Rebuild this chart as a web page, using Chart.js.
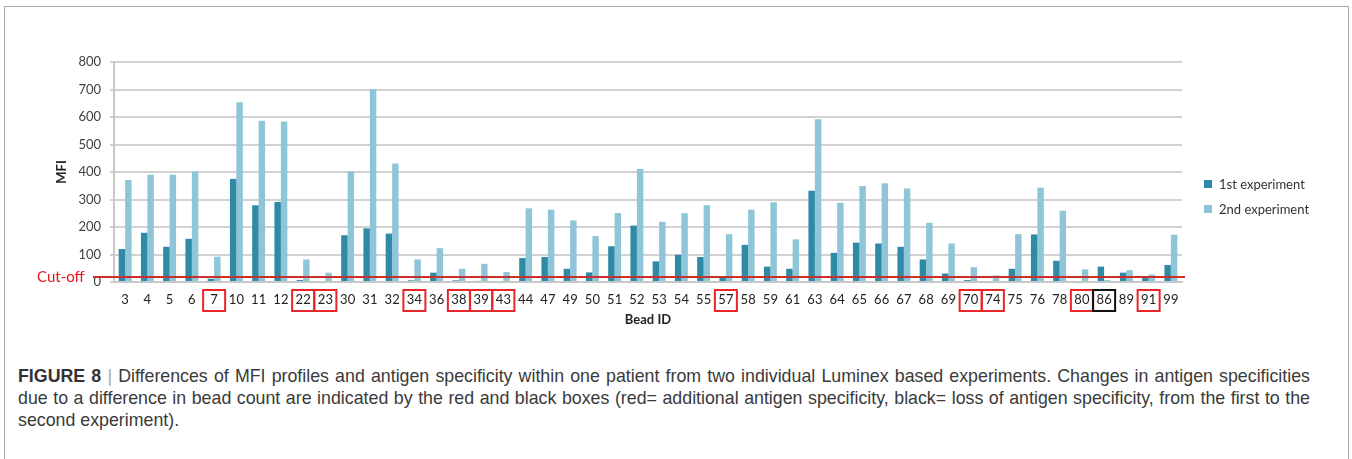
<!DOCTYPE html>
<html lang="en">
<head>
    <meta charset="UTF-8">
    <script src="https://cdn.jsdelivr.net/npm/chart.js"></script>
    <title>Figure 8</title>
    <style>
        body { margin: 0; background: #fff; width: 1352px; height: 459px; overflow: hidden; position: relative; }
        #frame {
            position: absolute; left: 4px; top: 6px; width: 1343px; height: 470px;
            border: 1.5px solid #a8a8a8; border-bottom: none;
        }
        #chartCanvas { position: absolute; left: 0; top: 0; }
        #legend { position: absolute; left: 1204px; top: 171px; font: 13px Lato, sans-serif; color: #333; }
        #legend div { height: 25px; display: flex; align-items: center; }
        #legend span.sw { width: 8px; height: 8px; margin-right: 7px; display: inline-block; }
        #caption {
            position: absolute; left: 18px; top: 365px; width: 1292px;
            font: 17.8px "Liberation Sans", Arial, sans-serif; line-height: 22px; color: #3a3a3a;
        }
        #caption .full { text-align: justify; text-align-last: justify; white-space: nowrap; }
        #caption b { color: #333; }
        #caption .bar { color: #aaa; }
    </style>
</head>
<body>
    <div id="frame"></div>
    <canvas id="chartCanvas" width="1352" height="330"></canvas>

    <div id="legend">
        <div><span class="sw" style="background:#2f8aa6"></span>1st experiment</div>
        <div><span class="sw" style="background:#8ec5d9"></span>2nd experiment</div>
    </div>

    <div id="caption">
        <div class="full"><b>FIGURE 8</b> <span class="bar">|</span> Differences of MFI profiles and antigen specificity within one patient from two individual Luminex based experiments. Changes in antigen specificities</div>
        <div class="full">due to a difference in bead count are indicated by the red and black boxes (red= additional antigen specificity, black= loss of antigen specificity, from the first to the</div>
        <div>second experiment).</div>
    </div>

    <script>
        // bead IDs on the x axis
        const beadIds = ['3','4','5','6','7','10','11','12','22','23','30','31','32','34','36','38','39','43','44','47',
            '49','50','51','52','53','54','55','57','58','59','61','63','64','65','66','67','68','69','70','74',
            '75','76','78','80','86','89','91','99'];

        // MFI
        const firstExperiment = [120,179,128,157,12,375,279,291,7,-4,170,195,176,6,34,6,4,-4,87,91,
            48,35,130,205,75,99,91,19,135,56,48,332,106,143,140,128,82,31,7,-4,
            48,173,77,-4,56,34,15,62];
        const secondExperiment = [371,390,390,402,92,654,586,584,82,34,402,701,431,82,123,48,66,36,268,263,
            224,167,251,411,219,250,279,174,263,290,155,592,288,349,359,340,215,140,54,24,
            174,343,259,46,7,43,27,172];

        const yTicks = [0,100,200,300,400,500,600,700,800];
        const cutOff = 18;

        // boxed bead labels (red = additional specificity, black = lost)
        const redBoxes = ['7','22','23','34','38','39','43','57','70','74','80','91'];
        const blackBoxes = ['86'];

        const extras = {
            id: 'extras',
            afterDatasetsDraw(chart) {
                const {ctx, chartArea, scales: {y}} = chart;
                const yc = y.getPixelForValue(cutOff);
                ctx.save();
                ctx.strokeStyle = '#c9302c';
                ctx.lineWidth = 2;
                ctx.beginPath();
                ctx.moveTo(93, yc);
                ctx.lineTo(chartArea.right + 3, yc);
                ctx.stroke();
                ctx.fillStyle = '#e8141b';
                ctx.font = '15px Lato';
                ctx.textBaseline = 'middle';
                ctx.fillText('Cut-off', 37, yc);
                ctx.restore();
            },
            afterDraw(chart) {
                const {ctx, scales: {x}} = chart;
                ctx.save();
                ctx.lineWidth = 2;
                beadIds.forEach((id, i) => {
                    let col = null;
                    if (redBoxes.includes(id)) col = '#e8262a';
                    if (blackBoxes.includes(id)) col = '#111';
                    if (!col) return;
                    const cx = x.getPixelForTick(i);
                    ctx.strokeStyle = col;
                    ctx.strokeRect(cx - 11, 290, 22, 21);
                });
                ctx.restore();
            }
        };

        const ctx = document.getElementById('chartCanvas').getContext('2d');
        new Chart(ctx, {
            type: 'bar',
            data: {
                labels: beadIds,
                datasets: [{
                    label: '1st experiment',
                    data: firstExperiment,
                    backgroundColor: '#2f8aa6',
                    clip: false
                }, {
                    label: '2nd experiment',
                    data: secondExperiment,
                    backgroundColor: '#8ec5d9',
                    clip: false
                }]
            },
            options: {
                responsive: false,
                animation: false,
                layout: { padding: { top: 62, left: 0, right: 170, bottom: 2 } },
                categoryPercentage: 0.58,
                barPercentage: 1.0,
                plugins: { legend: { display: false }, tooltip: { enabled: false } },
                scales: {
                    x: {
                        grid: { display: false },
                        border: { color: '#c8c8c8', width: 2 },
                        ticks: { font: { family: 'Lato', size: 13 }, color: '#222', maxRotation: 0, autoSkip: false, padding: 2 },
                        title: { display: true, text: 'Bead ID', font: { family: 'Lato', size: 13, weight: 'bold' }, color: '#222', padding: 0 },
                        afterFit: s => { s.height = 46; }
                    },
                    y: {
                        min: 0, max: 800,
                        afterBuildTicks: s => { s.ticks = yTicks.map(v => ({ value: v })); },
                        grid: { color: '#d2d2d2', lineWidth: 2, tickLength: 4 },
                        border: { color: '#c8c8c8', width: 2 },
                        ticks: { font: { family: 'Lato', size: 13 }, color: '#404040', padding: 9 },
                        title: { display: true, text: 'MFI', font: { family: 'Lato', size: 13, weight: 'bold' }, color: '#222', padding: { top: 54, bottom: 0 } },
                        afterFit: s => { s.width = 114; }
                    }
                }
            },
            plugins: [extras]
        });
    </script>
</body>
</html>
